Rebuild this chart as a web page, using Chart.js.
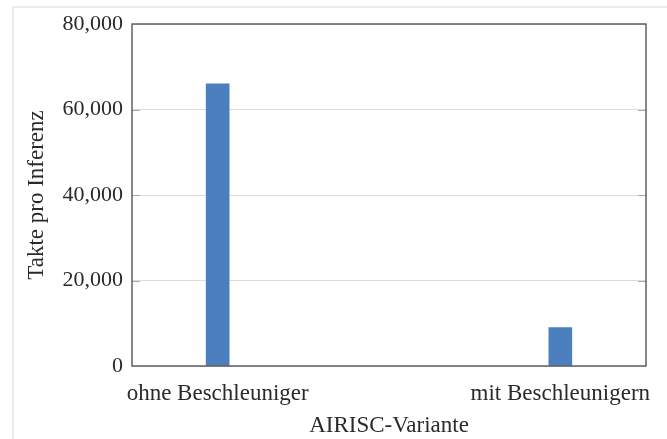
<!DOCTYPE html>
<html>
<head>
<meta charset="utf-8">
<script src="https://cdn.jsdelivr.net/npm/chart.js@4/dist/chart.umd.min.js"></script>
<style>
  html, body { margin: 0; padding: 0; background: #fff; }
  #wrap { position: relative; width: 667px; height: 439px; overflow: hidden; }
  #frame { position: absolute; left: 12px; top: 6px; right: -4px; bottom: -4px;
           border-left: 2px solid #ececec; border-top: 2px solid #ececec; }
  canvas { position: absolute; left: 0; top: 0; }
</style>
</head>
<body>
<div id="wrap">
  <div id="frame"></div>
  <canvas id="chart" width="667" height="439"></canvas>
</div>
<script>
const categories = ["ohne Beschleuniger", "mit Beschleunigern"];
const cycles = [66000, 9000];
const yTicks = [0, 20000, 40000, 60000, 80000];

Chart.defaults.font.family = "'Liberation Serif', 'Times New Roman', serif";
Chart.defaults.color = '#2a2a2a';

// pgfplots-like box around the plot, with short dark stubs at the grid lines
const axisBox = {
  id: 'axisBox',
  afterDraw(chart) {
    const { ctx, chartArea: a, scales: { y } } = chart;
    ctx.save();
    ctx.strokeStyle = '#a8a8a8';
    ctx.lineWidth = 1;
    yTicks.slice(1, -1).forEach(v => {
      const py = Math.round(y.getPixelForValue(v)) + 0.5;
      ctx.beginPath();
      ctx.moveTo(a.left, py); ctx.lineTo(a.left + 8, py);
      ctx.moveTo(a.right - 8, py); ctx.lineTo(a.right, py);
      ctx.stroke();
    });
    ctx.strokeStyle = '#555';
    ctx.lineWidth = 1.4;
    ctx.strokeRect(a.left, a.top, a.right - a.left, a.bottom - a.top);
    ctx.restore();
  }
};

new Chart(document.getElementById('chart'), {
  type: 'bar',
  data: {
    datasets: [{
      data: cycles.map((v, i) => ({ x: i, y: v })),
      backgroundColor: '#4c7fbd',
      barThickness: 23
    }]
  },
  options: {
    responsive: false,
    animation: false,
    layout: { padding: { top: 24, right: 21, left: 0, bottom: 0 } },
    plugins: { legend: { display: false }, tooltip: { enabled: false } },
    scales: {
      x: {
        type: 'linear',
        offset: false,
        min: -0.25,
        max: 1.25,
        afterBuildTicks: s => { s.ticks = categories.map((c, i) => ({ value: i })); },
        afterFit: s => { s.height = 73; },
        grid: { display: false },
        border: { display: false },
        ticks: {
          font: { size: 23 },
          padding: 6,
          maxRotation: 0,
          callback: v => categories[v]
        },
        title: {
          display: true,
          text: 'AIRISC-Variante',
          font: { size: 23, lineHeight: 1.1 },
          padding: { top: 0, bottom: 0 }
        }
      },
      y: {
        min: 0,
        max: 80000,
        afterBuildTicks: s => { s.ticks = yTicks.map(v => ({ value: v })); },
        afterFit: s => { s.width = 132; },
        grid: { color: '#dcdcdc', drawTicks: false },
        border: { display: false },
        ticks: {
          font: { size: 22 },
          padding: 9,
          callback: v => v.toLocaleString('en-US')
        },
        title: {
          display: true,
          text: 'Takte pro Inferenz',
          font: { size: 23 },
          padding: { top: 23, bottom: 0 }
        }
      }
    }
  },
  plugins: [axisBox]
});
</script>
</body>
</html>
